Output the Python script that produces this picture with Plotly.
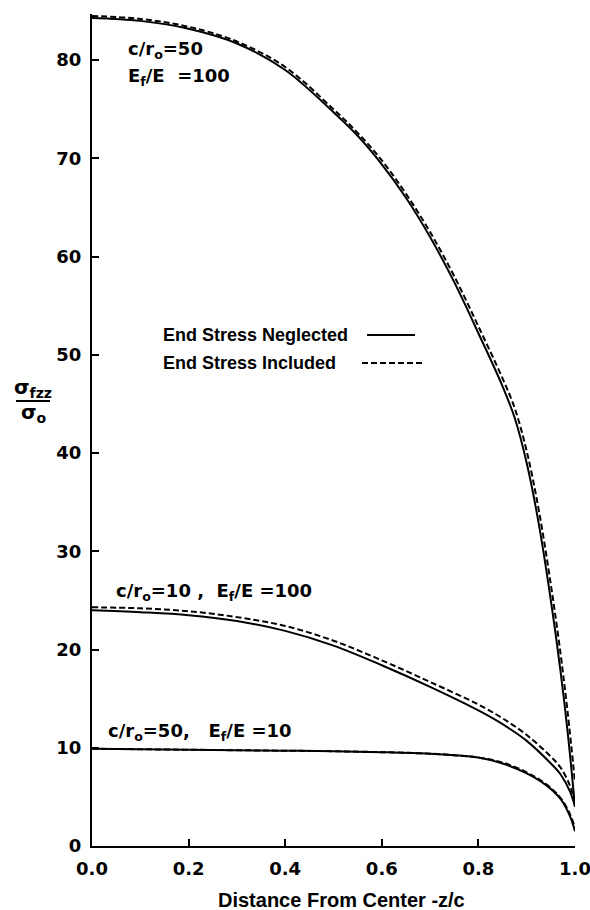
import plotly.graph_objects as go

# ---------------- data ----------------
x_top = [0.0, 0.1, 0.2, 0.3, 0.4, 0.5, 0.55, 0.6, 0.65, 0.7, 0.75, 0.8, 0.85, 0.875, 0.9, 0.925, 0.95, 0.97, 0.985, 1.0]
top_neglected = [84.3, 84.0, 83.2, 81.7, 79.0, 74.7, 72.3, 69.4, 66.0, 62.0, 57.4, 52.2, 46.8, 43.6, 39.0, 32.8, 25.0, 17.8, 11.5, 4.0]
top_included = [84.5, 84.2, 83.4, 81.9, 79.3, 75.0, 72.6, 69.8, 66.4, 62.5, 58.0, 52.9, 47.6, 44.6, 40.2, 34.2, 26.6, 19.6, 13.5, 6.5]

x_mid = [0.0, 0.1, 0.2, 0.3, 0.4, 0.5, 0.6, 0.7, 0.8, 0.85, 0.9, 0.95, 0.97, 0.99, 1.0]
mid_neglected = [24.0, 23.8, 23.5, 22.9, 21.9, 20.4, 18.4, 16.2, 13.8, 12.4, 10.7, 8.4, 7.3, 5.5, 4.0]
mid_included = [24.3, 24.2, 23.9, 23.3, 22.4, 20.9, 18.9, 16.7, 14.4, 13.0, 11.3, 9.1, 8.0, 6.1, 4.5]

x_low = [0.0, 0.1, 0.2, 0.3, 0.4, 0.5, 0.6, 0.7, 0.75, 0.8, 0.85, 0.9, 0.94, 0.97, 0.99, 1.0]
low_neglected = [9.9, 9.85, 9.8, 9.75, 9.7, 9.65, 9.55, 9.4, 9.25, 9.0, 8.4, 7.4, 6.2, 4.8, 3.0, 1.5]
low_included = [9.9, 9.85, 9.8, 9.75, 9.7, 9.65, 9.55, 9.4, 9.25, 9.0, 8.5, 7.5, 6.3, 4.9, 3.2, 1.8]

x_ticks = [0.0, 0.2, 0.4, 0.6, 0.8, 1.0]
x_tick_labels = ["0.0", "0.2", "0.4", "0.6", "0.8", "1.0"]
y_ticks = [0, 10, 20, 30, 40, 50, 60, 70, 80]

# ---------------- figure ----------------
W, H = 590, 910
L, R, T, B = 92, 15, 14, 64
PW, PH = W - L - R, H - T - B

def px(xp, yp):
    return (xp - L) / PW, (H - B - yp) / PH

TICK_FONT = dict(family="DejaVu Sans", size=18, color="black", weight="bold")
ANN_FONT = dict(family="DejaVu Sans", size=18, color="black", weight="bold")
TEXT_FONT = dict(family="Liberation Sans", size=18, color="black", weight="bold")
DASH = "6px,3px"

fig = go.Figure()
solid = dict(color="black", width=2)
dashed = dict(color="black", width=2, dash=DASH)
for xs, ys_s, ys_d in [(x_top, top_neglected, top_included),
                       (x_mid, mid_neglected, mid_included),
                       (x_low, low_neglected, low_included)]:
    fig.add_trace(go.Scatter(x=xs, y=ys_d, mode="lines", line=dashed, showlegend=False,
                             line_shape="spline", hoverinfo="skip"))
    fig.add_trace(go.Scatter(x=xs, y=ys_s, mode="lines", line=solid, showlegend=False,
                             line_shape="spline", hoverinfo="skip"))

annotations = []
def add_text(text, xp, yp, anchor="left", font=TEXT_FONT):
    ax, ay = px(xp, yp)
    annotations.append(dict(text=text, x=ax, y=ay, xref="paper", yref="paper",
                            xanchor=anchor, yanchor="middle", showarrow=False, font=font))

add_text("c/r<sub>o</sub>=50", 126, 50, font=ANN_FONT)
add_text("E<sub>f</sub>/E  =100", 126, 77, font=ANN_FONT)
add_text("c/r<sub>o</sub>=10 ,  E<sub>f</sub>/E =100", 114, 592, font=ANN_FONT)
add_text("c/r<sub>o</sub>=50,   E<sub>f</sub>/E =10", 106, 732, font=ANN_FONT)
add_text("End Stress Neglected", 161, 335)
add_text("End Stress Included", 161, 363)
add_text("σ<sub>fzz</sub>", 33, 388, anchor="center",
         font=dict(family="DejaVu Sans", size=20, color="black", weight="bold"))
add_text("σ<sub>o</sub>", 34, 413, anchor="center",
         font=dict(family="DejaVu Sans", size=20, color="black", weight="bold"))
add_text("Distance From Center -z/c", 341, 900, anchor="center",
         font=dict(family="Liberation Sans", size=20, color="black", weight="bold"))

shapes = []
def add_line(x0, y0, x1, y1, dash="solid"):
    a0, b0 = px(x0, y0)
    a1, b1 = px(x1, y1)
    shapes.append(dict(type="line", xref="paper", yref="paper", x0=a0, y0=b0, x1=a1, y1=b1,
                       line=dict(color="black", width=2, dash=dash)))

add_line(367, 335, 415, 335)
add_line(362, 363, 422, 363, dash=DASH)
add_line(16, 401, 50, 401)

fig.update_layout(
    width=W, height=H,
    margin=dict(l=L, r=R, t=T, b=B, pad=0, autoexpand=False),
    paper_bgcolor="white", plot_bgcolor="white",
    annotations=annotations, shapes=shapes,
    showlegend=False,
)
fig.update_xaxes(
    range=[0, 1.0], tickvals=x_ticks, ticktext=x_tick_labels,
    showgrid=False, zeroline=False, showline=True, linecolor="black", linewidth=2,
    ticks="inside", ticklen=7, tickwidth=2, tickcolor="black",
    tickfont=TICK_FONT, ticklabelstandoff=5, ticklabeloverflow="allow",
    automargin=False,
)
fig.update_yaxes(
    range=[0, 84.7], tickvals=y_ticks,
    showgrid=False, zeroline=False, showline=True, linecolor="black", linewidth=2,
    ticks="inside", ticklen=7, tickwidth=2, tickcolor="black",
    tickfont=TICK_FONT, ticklabelstandoff=5, automargin=False,
)

fig.write_html("out.html")
